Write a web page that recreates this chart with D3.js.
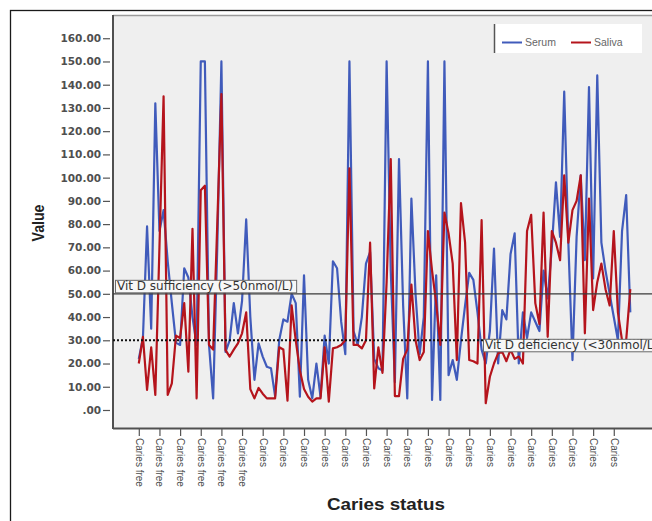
<!DOCTYPE html>
<html>
<head>
<meta charset="utf-8">
<script src="https://cdn.jsdelivr.net/npm/d3@7"></script>
<style>
  body { margin: 0; background: #fff; }
  svg { display: block; }
</style>
</head>
<body>
<svg id="chart" width="652" height="521"></svg>
<script>
// Vitamin D (nmol/L) per case, ordered by caries status
const serum = [
  22, 31, 79, 35, 132, 77, 86, 64, 46, 29,
  28, 61, 57, 40, 28, 150, 150, 28, 5, 70,
  150, 25, 30, 46, 33, 47, 82, 40, 13, 28.7,
  23, 18.6, 18, 6, 30, 39, 38, 50, 46, 5.7,
  58, 13, 5, 20, 5.7, 32, 20, 64, 61, 38,
  24, 150, 34, 28, 40, 63, 68, 22, 18, 17,
  150, 60, 12, 108, 45, 5, 91, 50, 24, 40,
  150, 4.3, 58, 4.3, 150, 15, 21.5, 13, 30, 45,
  59, 56, 42, 26, 20, 34, 69.5, 20, 43, 39,
  67, 76, 20, 42, 31, 42, 38, 34, 60, 48,
  70, 98, 74.5, 137, 72, 21.5, 74.5, 101, 64.5, 139,
  56.6, 144, 72, 60, 50, 40, 30, 77, 92.5, 42
];
const saliva = [
  20, 31.5, 8.6, 27, 6.5, 70, 135, 6.5, 11.5, 32,
  31, 46, 16.5, 78, 5, 94.6, 96.5, 28, 26, 80,
  136, 25.8, 23, 26, 28.7, 33, 42, 9, 5, 9.5,
  7, 5, 5, 5, 27, 26, 4, 45, 30, 17,
  9, 5.7, 3.6, 5, 5, 27, 3.6, 26.5, 27, 28,
  30, 104, 28, 28, 26.5, 30, 72, 9.3, 27, 16,
  55, 108, 6, 6, 22, 26, 54, 30, 21.5, 25,
  77, 60, 46, 28, 85, 76, 63, 21.5, 89, 72,
  21.5, 21, 20, 81.7, 2.9, 14.3, 20, 24.4, 25, 21,
  26, 22, 23, 20, 77, 84, 46, 37, 85, 31.5,
  77, 72, 64.5, 101, 72, 86, 90, 101, 33, 91,
  43, 55, 63, 52, 45, 77, 42, 30, 30, 52
];
// One axis label for every fifth case
const tickStep = 5;
const tickLabels = [
  "Caries free", "Caries free", "Caries free", "Caries free", "Caries free", "Caries free",
  "Caries", "Caries", "Caries", "Caries", "Caries", "Caries",
  "Caries", "Caries", "Caries", "Caries", "Caries", "Caries",
  "Caries", "Caries", "Caries", "Caries", "Caries", "Caries"
];
const yTickValues = [0, 10, 20, 30, 40, 50, 60, 70, 80, 90, 100, 110, 120, 130, 140, 150, 160];
const seriesNames = ["Serum", "Saliva"];
const seriesColors = ["#405bbb", "#b5141c"];
const refValues = [50, 30];
const refLabels = ["Vit D sufficiency (>50nmol/L)", "Vit D deficiency (<30nmol/L)"];

const svg = d3.select("#chart");
const plot = { left: 113, top: 15, right: 700, bottom: 428 };

const x = d3.scalePoint()
  .domain(d3.range(serum.length))
  .range([138.8, 630.3]);
const y = d3.scaleLinear()
  .domain([-7.75, 170])
  .range([plot.bottom, plot.top]);

// outer frame
svg.append("rect")
  .attr("x", 10.5).attr("y", 10.5)
  .attr("width", 800).attr("height", 700)
  .attr("fill", "none").attr("stroke", "#1a1a1a").attr("stroke-width", 1.3);

// plot background
svg.append("rect")
  .attr("x", plot.left).attr("y", plot.top)
  .attr("width", plot.right - plot.left).attr("height", plot.bottom - plot.top)
  .attr("fill", "#efefef");
svg.append("line")
  .attr("x1", plot.left).attr("x2", plot.right)
  .attr("y1", plot.top + 0.5).attr("y2", plot.top + 0.5)
  .attr("stroke", "#9a9a9a").attr("stroke-width", 1.5);

// y axis
const yAxis = svg.append("g")
  .attr("transform", `translate(${plot.left - 3},0)`)
  .call(d3.axisLeft(y)
    .tickValues(yTickValues)
    .tickSize(7)
    .tickPadding(2)
    .tickFormat(d => d === 0 ? ".00" : d.toFixed(2)));
yAxis.select(".domain").remove();
yAxis.selectAll("line").attr("stroke", "#555").attr("stroke-width", 1.2);
yAxis.selectAll("text")
  .attr("fill", "#4f4f4f")
  .style("font-family", "'DejaVu Sans', sans-serif")
  .style("font-size", "10.5px")
  .style("font-weight", "bold");

// x axis
const xAxis = svg.append("g")
  .attr("transform", `translate(0,${plot.bottom + 1})`)
  .call(d3.axisBottom(x)
    .tickValues(d3.range(0, serum.length, tickStep))
    .tickSize(7)
    .tickFormat((d, i) => tickLabels[i]));
xAxis.select(".domain").remove();
xAxis.selectAll("line").attr("stroke", "#555").attr("stroke-width", 1.2);
xAxis.selectAll("text")
  .attr("x", 9).attr("y", 0).attr("dy", "0.35em")
  .attr("transform", "rotate(90)")
  .style("text-anchor", "start")
  .attr("fill", "#4a4a4a")
  .style("font-family", "'Liberation Sans', Arial, sans-serif")
  .style("font-size", "10px");

// plot frame lines
svg.append("line")
  .attr("x1", plot.left).attr("x2", plot.left)
  .attr("y1", plot.top).attr("y2", plot.bottom + 1)
  .attr("stroke", "#505050").attr("stroke-width", 2);
svg.append("line")
  .attr("x1", plot.left).attr("x2", plot.right)
  .attr("y1", plot.bottom + 0.5).attr("y2", plot.bottom + 0.5)
  .attr("stroke", "#505050").attr("stroke-width", 2);

// series lines
const line = d3.line()
  .x((d, i) => x(i))
  .y(d => y(d));
[serum, saliva].forEach((values, k) => {
  svg.append("path")
    .datum(values)
    .attr("fill", "none")
    .attr("stroke", seriesColors[k])
    .attr("stroke-width", 2.2)
    .attr("stroke-linejoin", "round")
    .attr("d", line);
});

// reference lines
svg.append("line")
  .attr("x1", plot.left).attr("x2", plot.right)
  .attr("y1", y(refValues[0])).attr("y2", y(refValues[0]))
  .attr("stroke", "#3a3a3a").attr("stroke-width", 1.2);
svg.append("line")
  .attr("x1", plot.left).attr("x2", plot.right)
  .attr("y1", y(refValues[1])).attr("y2", y(refValues[1]))
  .attr("stroke", "#111").attr("stroke-width", 2)
  .attr("stroke-dasharray", "2,2");

// reference labels
function refLabel(text, x0, yTop) {
  const g = svg.append("g");
  const rect = g.append("rect");
  const t = g.append("text")
    .attr("x", x0 + 2).attr("y", yTop + 10.5)
    .attr("fill", "#333")
    .style("font-family", "'DejaVu Sans', sans-serif")
    .style("font-size", "12px")
    .text(text);
  const w = t.node().getComputedTextLength();
  rect.attr("x", x0 + 0.5).attr("y", yTop + 0.5)
    .attr("width", w + 5).attr("height", 12.5)
    .attr("fill", "#f7f7f7").attr("stroke", "#6a6a6a").attr("stroke-width", 1);
}
refLabel(refLabels[0], 115, y(refValues[0]) - 14);
refLabel(refLabels[1], 483, y(refValues[1]) - 1.5);

// legend
const legend = svg.append("g");
legend.append("rect")
  .attr("x", 494).attr("y", 24).attr("width", 148).attr("height", 29)
  .attr("fill", "#fff");
legend.append("line")
  .attr("x1", 494.5).attr("x2", 494.5).attr("y1", 24).attr("y2", 53)
  .attr("stroke", "#555").attr("stroke-width", 1.5);
const legendX = [502, 571];
seriesNames.forEach((name, k) => {
  legend.append("line")
    .attr("x1", legendX[k]).attr("x2", legendX[k] + 20)
    .attr("y1", 42.5).attr("y2", 42.5)
    .attr("stroke", seriesColors[k]).attr("stroke-width", 2);
  legend.append("text")
    .attr("x", legendX[k] + 23).attr("y", 46)
    .attr("fill", "#666")
    .style("font-family", "'Liberation Sans', Arial, sans-serif")
    .style("font-size", "10.5px")
    .text(name);
});

// axis titles
svg.append("text")
  .attr("transform", "translate(44,223) rotate(-90)")
  .attr("text-anchor", "middle")
  .attr("textLength", 37).attr("lengthAdjust", "spacingAndGlyphs")
  .attr("fill", "#222")
  .style("font-family", "'Liberation Sans', Arial, sans-serif")
  .style("font-size", "16px").style("font-weight", "bold")
  .text("Value");
svg.append("text")
  .attr("x", 386).attr("y", 510)
  .attr("text-anchor", "middle")
  .attr("textLength", 118).attr("lengthAdjust", "spacingAndGlyphs")
  .attr("fill", "#222")
  .style("font-family", "'Liberation Sans', Arial, sans-serif")
  .style("font-size", "16px").style("font-weight", "bold")
  .text("Caries status");
</script>
</body>
</html>
